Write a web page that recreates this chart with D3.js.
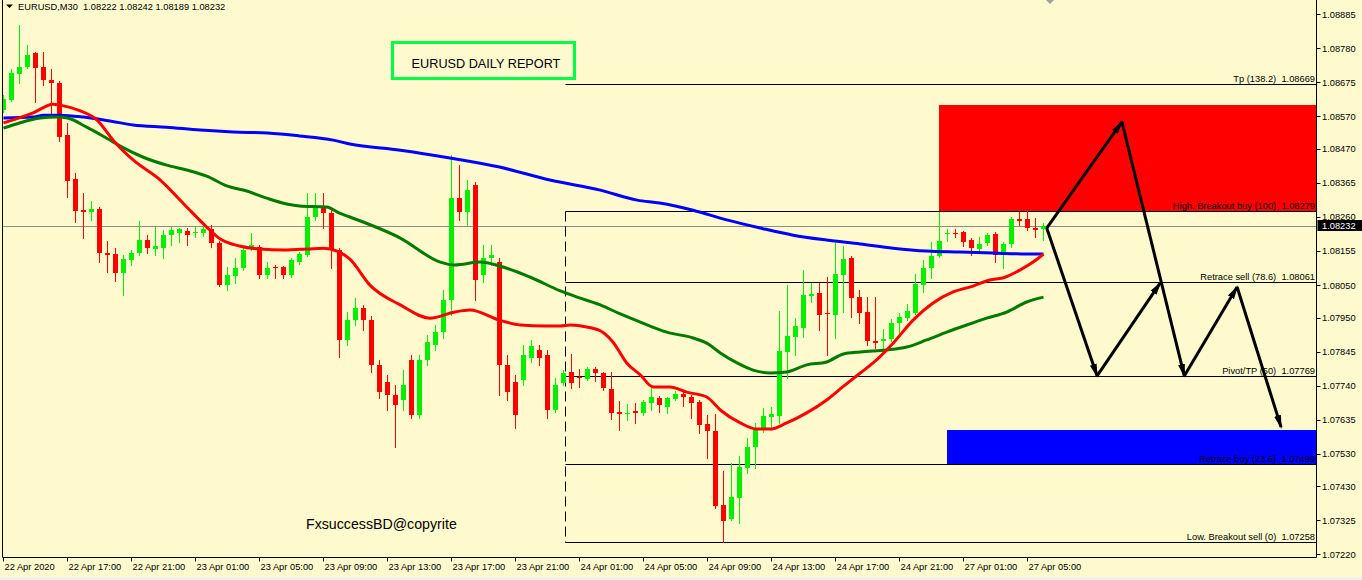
<!DOCTYPE html>
<html><head><meta charset="utf-8">
<script src="https://cdn.jsdelivr.net/npm/d3@7"></script>
<style>
html,body{margin:0;padding:0;background:#FFFACD;overflow:hidden;}
svg{display:block;}
text{font-family:"Liberation Sans",Arial,sans-serif;}
</style></head><body>
<svg id="chart" width="1362" height="580"></svg>
<script>
// ---------- DATA ----------
const symbolHeader = "EURUSD,M30";
const opens = [1.08590,1.08621,1.08701,1.08722,1.08766,1.08722,1.08682,1.08673,1.08513,1.08377,
1.08281,1.08275,1.08285,1.08149,1.08146,1.08087,1.08127,1.08149,1.08189,1.08161,
1.08164,1.08204,1.08211,1.08217,1.08211,1.08211,1.08223,1.08180,1.08050,1.08078,
1.08103,1.08164,1.08167,1.08081,1.08106,1.08106,1.08081,1.08121,1.08143,1.08260,
1.08291,1.08272,1.08158,1.07881,1.07942,1.07979,1.07942,1.07804,1.07751,1.07711,
1.07696,1.07819,1.07649,1.07819,1.07865,1.07905,1.08004,1.08318,1.08275,1.08359,
1.08081,1.08133,1.08121,1.07804,1.07751,1.07757,1.07825,1.07850,1.07834,1.07665,
1.07748,1.07782,1.07767,1.07760,1.07791,1.07779,1.07730,1.07659,1.07653,1.07662,
1.07656,1.07686,1.07702,1.07674,1.07699,1.07714,1.07705,1.07690,1.07622,1.07600,
1.07372,1.07329,1.07394,1.07486,1.07551,1.07603,1.07643,1.07646,1.07844,1.07890,
1.07918,1.08016,1.08025,1.07964,1.07958,1.08081,1.08133,1.08013,1.07967,1.07878,
1.07878,1.07884,1.07933,1.07948,1.07964,1.08050,1.08103,1.08140,1.08208,1.08211,
1.08214,1.08189,1.08161,1.08180,1.08208,1.08143,1.08177,1.08254,1.08254,1.08226,
1.08222];
const highs = [1.08636,1.08716,1.08852,1.08790,1.08769,1.08769,1.08716,1.08679,1.08550,1.08396,
1.08334,1.08309,1.08290,1.08186,1.08164,1.08143,1.08158,1.08248,1.08204,1.08229,
1.08220,1.08229,1.08226,1.08226,1.08229,1.08232,1.08235,1.08186,1.08106,1.08133,
1.08167,1.08211,1.08174,1.08121,1.08112,1.08109,1.08133,1.08152,1.08334,1.08334,
1.08334,1.08281,1.08164,1.07967,1.08010,1.07989,1.07955,1.07819,1.07773,1.07742,
1.07788,1.07834,1.07834,1.07896,1.07927,1.08035,1.08451,1.08420,1.08374,1.08368,
1.08174,1.08174,1.08133,1.07834,1.07773,1.07865,1.07881,1.07865,1.07850,1.07763,
1.07788,1.07837,1.07791,1.07797,1.07797,1.07782,1.07782,1.07693,1.07683,1.07686,
1.07696,1.07733,1.07708,1.07705,1.07723,1.07720,1.07711,1.07696,1.07649,1.07653,
1.07477,1.07501,1.07523,1.07578,1.07625,1.07671,1.07674,1.07970,1.08050,1.07948,
1.08097,1.08057,1.08057,1.08075,1.08180,1.08170,1.08140,1.08035,1.08013,1.08013,
1.07915,1.07945,1.07964,1.07992,1.08084,1.08127,1.08183,1.08275,1.08223,1.08223,
1.08217,1.08195,1.08198,1.08211,1.08214,1.08183,1.08260,1.08275,1.08279,1.08257,
1.08242];
const lows = [1.08584,1.08618,1.08673,1.08719,1.08614,1.08667,1.08581,1.08494,1.08322,1.08244,
1.08195,1.08251,1.08121,1.08090,1.08063,1.08019,1.08112,1.08143,1.08149,1.08143,
1.08133,1.08174,1.08183,1.08174,1.08198,1.08201,1.08167,1.08047,1.08035,1.08057,
1.08097,1.08158,1.08072,1.08072,1.08072,1.08072,1.08075,1.08115,1.08140,1.08251,
1.08226,1.08103,1.07828,1.07865,1.07927,1.07911,1.07782,1.07702,1.07665,1.07551,
1.07665,1.07640,1.07640,1.07804,1.07850,1.07887,1.07958,1.08251,1.08235,1.08004,
1.08060,1.08112,1.07711,1.07696,1.07609,1.07742,1.07813,1.07804,1.07640,1.07659,
1.07742,1.07733,1.07736,1.07757,1.07754,1.07726,1.07637,1.07603,1.07634,1.07625,
1.07649,1.07665,1.07659,1.07656,1.07696,1.07677,1.07640,1.07594,1.07517,1.07363,
1.07258,1.07326,1.07317,1.07471,1.07486,1.07597,1.07612,1.07625,1.07763,1.07834,
1.07890,1.07998,1.07911,1.07834,1.07887,1.07967,1.07952,1.07933,1.07865,1.07856,
1.07856,1.07878,1.07896,1.07942,1.07961,1.08029,1.08072,1.08137,1.08186,1.08198,
1.08170,1.08143,1.08152,1.08174,1.08121,1.08103,1.08167,1.08235,1.08220,1.08198,
1.08189];
const closes = [1.08624,1.08704,1.08722,1.08759,1.08719,1.08682,1.08673,1.08507,1.08371,1.08278,
1.08275,1.08285,1.08149,1.08143,1.08087,1.08130,1.08149,1.08189,1.08164,1.08170,
1.08204,1.08220,1.08223,1.08204,1.08214,1.08223,1.08180,1.08050,1.08081,1.08103,
1.08158,1.08174,1.08081,1.08103,1.08103,1.08081,1.08127,1.08146,1.08260,1.08291,
1.08272,1.08158,1.07881,1.07942,1.07979,1.07942,1.07804,1.07720,1.07711,1.07680,
1.07742,1.07649,1.07819,1.07874,1.07905,1.08004,1.08318,1.08275,1.08343,1.08066,
1.08133,1.08143,1.07804,1.07720,1.07649,1.07834,1.07862,1.07825,1.07665,1.07742,
1.07779,1.07748,1.07763,1.07791,1.07779,1.07733,1.07656,1.07653,1.07656,1.07656,
1.07690,1.07705,1.07680,1.07702,1.07714,1.07705,1.07686,1.07619,1.07600,1.07369,
1.07323,1.07397,1.07489,1.07551,1.07603,1.07646,1.07653,1.07847,1.07893,1.07924,
1.08019,1.08022,1.07958,1.07961,1.08084,1.08130,1.08010,1.07964,1.07878,1.07871,
1.07884,1.07933,1.07952,1.07970,1.08053,1.08103,1.08140,1.08186,1.08211,1.08208,
1.08183,1.08164,1.08177,1.08204,1.08143,1.08177,1.08254,1.08248,1.08226,1.08220,
1.08232];

// moving averages: [candle position, price]
const maRedPos = [0,3.7,6.2,7.1,9.6,11.7,13.7,16.2,19.6,22.9,25.4,27.1,29.6,32.1,35,38,40,41.7,43.3,45.8,49.6,53.3,56.4,58.3,62,64.6,67.7,69.6,70.8,72.9,74.9,76.2,77.9,79.6,81.2,83.3,85.4,87.9,89.6,92.1,94.2,95.8,97.9,100.4,102.9,104.9,107.1,108.7,111.2,113.7,116.2,118.7,121.2,123.3,124.9,127.1,128.7,130];
const maRedVal = [1.08550,1.08581,1.08608,1.08605,1.08587,1.08559,1.08497,1.08436,1.08374,1.08291,1.08229,1.08192,1.08170,1.08161,1.08158,1.08161,1.08164,1.08155,1.08130,1.08050,1.07989,1.07948,1.07967,1.07973,1.07942,1.07927,1.07924,1.07924,1.07927,1.07921,1.07905,1.07874,1.07810,1.07773,1.07736,1.07736,1.07720,1.07705,1.07665,1.07625,1.07606,1.07606,1.07625,1.07656,1.07696,1.07736,1.07779,1.07810,1.07871,1.07942,1.07995,1.08029,1.08047,1.08066,1.08072,1.08097,1.08121,1.08146];
const maGreenPos = [0,2,4.6,6.7,8,10.4,12.9,15,17.4,20.4,22.9,25.4,28,30.4,32.9,35.4,37,40.4,42,43.3,49.6,54.6,56.4,59.6,62,65.8,69.6,71.7,74.6,77.1,79.9,82.9,86.2,87.9,89.6,91.7,93.7,95.8,97.9,100.4,102.9,104.9,107.1,110.4,112.9,115.4,117.9,120.4,122.9,125.4,127.9,130];
const maGreenVal = [1.08534,1.08550,1.08565,1.08568,1.08565,1.08537,1.08503,1.08473,1.08445,1.08420,1.08405,1.08386,1.08355,1.08340,1.08318,1.08300,1.08294,1.08291,1.08272,1.08260,1.08195,1.08121,1.08112,1.08121,1.08109,1.08075,1.08032,1.08013,1.07989,1.07961,1.07933,1.07905,1.07887,1.07871,1.07841,1.07810,1.07788,1.07779,1.07782,1.07804,1.07813,1.07837,1.07844,1.07850,1.07859,1.07881,1.07905,1.07927,1.07948,1.07967,1.07998,1.08013];
const maBluePos = [0,3.7,5,7,10,13.3,16.2,20.4,24.6,28.7,33,37,41.2,43.3,49.6,55.8,62,68.3,74.6,79.2,82,86.2,90.4,94.6,98.7,102.9,107.1,111.2,115.4,119.6,123.7,128,130];
const maBlueVal = [1.08565,1.08568,1.08574,1.08574,1.08568,1.08556,1.08544,1.08537,1.08528,1.08522,1.08519,1.08510,1.08497,1.08485,1.08466,1.08442,1.08414,1.08374,1.08343,1.08312,1.08303,1.08281,1.08251,1.08226,1.08204,1.08189,1.08177,1.08164,1.08155,1.08152,1.08149,1.08146,1.08146];

const xTickPos = [0,8,16,24,32,40,48,56,64,72,80,88,96,104,112,120,128];
const xTickLabels = ["22 Apr 2020","22 Apr 17:00","22 Apr 21:00","23 Apr 01:00","23 Apr 05:00","23 Apr 09:00","23 Apr 13:00","23 Apr 17:00","23 Apr 21:00","24 Apr 01:00","24 Apr 05:00","24 Apr 09:00","24 Apr 13:00","24 Apr 17:00","24 Apr 21:00","27 Apr 01:00","27 Apr 05:00"];
const yTickValues = [1.08885,1.08780,1.08675,1.08570,1.08470,1.08365,1.08260,1.08155,1.08050,1.07950,1.07845,1.07740,1.07635,1.07530,1.07430,1.07325,1.07220];

const fibLevels = [1.08669,1.08279,1.08061,1.07769,1.07499,1.07258];
const fibNames = ["Tp (138.2)","High. Breakout buy (100)","Retrace sell (78.6)","Pivot/TP (50)","Retrace buy (23.6)","Low. Breakout sell (0)"];
const fibStartPos = 70.2;
const sellZone = {pos:116.9, lo:1.08279, hi:1.08605};
const buyZone = {pos:117.9, lo:1.07499, hi:1.07603};
const arrowPathA_pos = [130.4,139.8,147.6,154.2,159.7];
const arrowPathA_val = [1.08226,1.08553,1.07770,1.08044,1.07612];
const arrowPathB_pos = [130.4,136.7,144.6];
const arrowPathB_val = [1.08226,1.07770,1.08057];
const titleText = "EURUSD DAILY REPORT";
const copyText = "FxsuccessBD@copyrite";

// ---------- LAYOUT ----------
const plotLeft = 2.5, plotRight = 1316.5, plotBottom = 557.5;
const x = d3.scaleLinear().domain([0,130]).range([3.5,1043.5]);
const y = d3.scaleLinear().domain([1.07220,1.08885]).range([554.3,14.3]);
const py = v => Math.round(y(v)) + 0.5;
const f5 = d3.format(".5f");

const svg = d3.select("#chart");
svg.append("rect").attr("width",1362).attr("height",580).attr("fill","#FFFACD");
svg.append("rect").attr("x",0).attr("y",577).attr("width",1362).attr("height",3).attr("fill","#F0F0F0");

const defs = svg.append("defs");
defs.append("clipPath").attr("id","clip").append("rect")
  .attr("x",plotLeft+0.5).attr("y",0).attr("width",plotRight-plotLeft-1).attr("height",plotBottom);
defs.append("marker").attr("id","ah").attr("viewBox","0 -5 14 10").attr("refX",12).attr("refY",0)
  .attr("markerWidth",14).attr("markerHeight",10).attr("markerUnits","userSpaceOnUse").attr("orient","auto")
  .append("path").attr("d","M0,-3.5L14,0L0,3.5Z").attr("fill","#000");

const plot = svg.append("g").attr("clip-path","url(#clip)");

// zones
plot.append("rect").attr("x",Math.round(x(sellZone.pos))).attr("y",Math.round(y(sellZone.hi)))
  .attr("width",plotRight-Math.round(x(sellZone.pos))).attr("height",Math.round(y(sellZone.lo))-Math.round(y(sellZone.hi)))
  .attr("fill","#FF0000");
plot.append("rect").attr("x",Math.round(x(buyZone.pos))).attr("y",Math.round(y(buyZone.hi)))
  .attr("width",plotRight-Math.round(x(buyZone.pos))).attr("height",Math.round(y(buyZone.lo))-Math.round(y(buyZone.hi)))
  .attr("fill","#0000FF");

// current price line
plot.append("line").attr("x1",plotLeft).attr("x2",plotRight).attr("y1",py(closes[closes.length-1])).attr("y2",py(closes[closes.length-1]))
  .attr("stroke","#8C8C8C").attr("stroke-width",1);

// fibo
const fx0 = Math.round(x(fibStartPos))+0.5;
plot.selectAll("line.fib").data(fibLevels).join("line").attr("class","fib")
  .attr("x1",fx0).attr("x2",plotRight).attr("y1",d=>py(d)).attr("y2",d=>py(d))
  .attr("stroke","#000").attr("stroke-width",1);
plot.append("line").attr("x1",fx0).attr("x2",fx0).attr("y1",py(fibLevels[1])).attr("y2",py(fibLevels[5]))
  .attr("stroke","#000").attr("stroke-width",1).attr("stroke-dasharray","10,5");
plot.selectAll("text.fib").data(fibLevels).join("text").attr("class","fib")
  .attr("x",plotRight-1.5).attr("y",d=>py(d)-2.5).attr("text-anchor","end")
  .attr("font-size","9.3px").attr("fill","#000")
  .text((d,i)=>fibNames[i]+"\u00a0\u00a0"+f5(d));

// candles
const idx = d3.range(opens.length);
const col = i => closes[i] >= opens[i] ? "#00F000" : "#FF0000";
plot.selectAll("line.wick").data(idx).join("line").attr("class","wick")
  .attr("x1",i=>x(i)).attr("x2",i=>x(i))
  .attr("y1",i=>Math.round(y(highs[i]))).attr("y2",i=>Math.round(y(lows[i]))+1)
  .attr("stroke",col).attr("stroke-width",1);
plot.selectAll("rect.body").data(idx).join("rect").attr("class","body")
  .attr("x",i=>x(i)-2.5).attr("width",5)
  .attr("y",i=>Math.round(y(Math.max(opens[i],closes[i]))))
  .attr("height",i=>Math.max(1,Math.round(y(Math.min(opens[i],closes[i])))-Math.round(y(Math.max(opens[i],closes[i])))))
  .attr("fill",col);

// moving averages
const maLine = d3.line().x(d=>x(d[0])).y(d=>y(d[1])).curve(d3.curveMonotoneX);
[[maBluePos,maBlueVal,"#0000FF"],[maGreenPos,maGreenVal,"#007A00"],[maRedPos,maRedVal,"#FF0000"]].forEach(([p,v,c])=>{
  plot.append("path").datum(p.map((q,k)=>[q,v[k]])).attr("d",maLine)
    .attr("fill","none").attr("stroke",c).attr("stroke-width",3).attr("stroke-linejoin","round");
});

// arrows
[[arrowPathA_pos,arrowPathA_val],[arrowPathB_pos,arrowPathB_val]].forEach(([p,v])=>{
  for(let k=0;k<p.length-1;k++){
    plot.append("line").attr("x1",x(p[k])).attr("y1",y(v[k])).attr("x2",x(p[k+1])).attr("y2",y(v[k+1]))
      .attr("stroke","#000").attr("stroke-width",3).attr("marker-end","url(#ah)");
  }
});

// frame
svg.append("line").attr("x1",plotLeft).attr("x2",plotLeft).attr("y1",0).attr("y2",plotBottom).attr("stroke","#000");
svg.append("line").attr("x1",plotRight).attr("x2",plotRight).attr("y1",0).attr("y2",plotBottom).attr("stroke","#000");
svg.append("line").attr("x1",plotLeft).attr("x2",plotRight).attr("y1",plotBottom).attr("y2",plotBottom).attr("stroke","#000");

// y axis
const ya = svg.append("g");
ya.selectAll("line").data(yTickValues).join("line")
  .attr("x1",plotRight).attr("x2",plotRight+4).attr("y1",d=>py(d)).attr("y2",d=>py(d)).attr("stroke","#000");
ya.selectAll("text").data(yTickValues).join("text")
  .attr("x",plotRight+5.5).attr("y",d=>y(d)+3.4).attr("font-size","9.3px").attr("fill","#000").text(d=>f5(d));

// current price tag
const cp = closes[closes.length-1];
svg.append("rect").attr("x",plotRight+1).attr("y",Math.round(y(cp))-6).attr("width",46).attr("height",11).attr("fill","#000");
svg.append("text").attr("x",plotRight+5.5).attr("y",y(cp)+3.4).attr("font-size","9.3px").attr("fill","#fff").text(f5(cp));

// x axis
const xa = svg.append("g");
xa.selectAll("line").data(xTickPos).join("line")
  .attr("x1",d=>x(d)).attr("x2",d=>x(d)).attr("y1",plotBottom).attr("y2",plotBottom+4).attr("stroke","#000");
xa.selectAll("text").data(xTickPos).join("text")
  .attr("x",d=>x(d)+1).attr("y",570).attr("font-size","9.3px").attr("fill","#000").text((d,i)=>xTickLabels[i]);

// header
svg.append("path").attr("d","M6,4.5L13,4.5L9.5,8Z").attr("fill","#000");
svg.append("text").attr("x",18).attr("y",9.8).attr("font-size","9.3px").attr("fill","#000")
  .text(symbolHeader+"\u00a0\u00a0"+[opens,highs,lows,closes].map(a=>f5(a[a.length-1])).join(" "));

// title box
svg.append("rect").attr("x",392.5).attr("y",42.5).attr("width",182).attr("height",36)
  .attr("fill","none").attr("stroke","#00FF44").attr("stroke-width",3);
svg.append("text").attr("x",486).attr("y",67.5).attr("text-anchor","middle").attr("font-size","12.7px").attr("fill","#000").text(titleText);

// copyright
svg.append("text").attr("x",306).attr("y",529).attr("font-size","14.2px").attr("fill","#000").text(copyText);

// chart shift marker
svg.append("path").attr("d","M1046,0L1054,0L1050,4Z").attr("fill","#A0A0A0");
</script>
</body></html>
